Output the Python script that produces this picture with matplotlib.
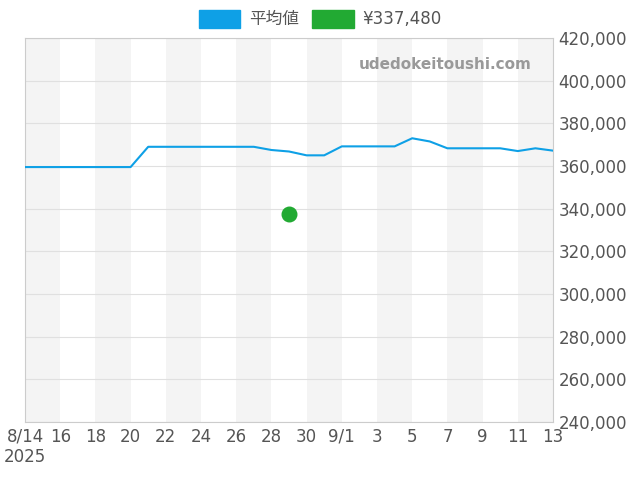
import matplotlib
matplotlib.use("Agg")
import matplotlib.pyplot as plt
import numpy as np
import datetime as dt

plt.rcParams['font.family'] = ['DejaVu Sans', 'Noto Sans CJK JP']

start = dt.date(2025, 8, 14)
avg_values = [359500]*7 + [369000]*7 + [367500, 366800, 365000, 365000] + [369200]*4 + \
             [373000, 371500] + [368300]*4 + [367000, 368300, 367200]
dates = [start + dt.timedelta(days=i) for i in range(len(avg_values))]
point_date = dt.date(2025, 8, 29)
point_value = 337480

tick_labels = ["8/14\n2025","16","18","20","22","24","26","28","30","9/1","3","5","7","9","11","13"]

fig = plt.figure(figsize=(6.4, 4.8), dpi=100)
ax = fig.add_axes([25/640, 1-422/480, 528/640, 384/480])
x = np.arange(len(avg_values))
px = (point_date - start).days

for k in range(0, 30, 4):
    ax.axvspan(k, k+2, color='#f4f4f4', zorder=0, lw=0)

ax.plot(x, avg_values, color='#0ea0e6', lw=1.5, zorder=3)
ax.scatter([px], [point_value], color='#22aa33', s=110, zorder=4)

ax.set_xlim(0, 30)
ax.set_ylim(240000, 420000)
ax.set_xticks(np.arange(0, 31, 2))
ax.set_xticklabels(tick_labels)
ax.set_yticks(np.arange(240000, 420001, 20000))
ax.yaxis.tick_right()
ax.yaxis.set_major_formatter(matplotlib.ticker.FuncFormatter(lambda v, p: f"{int(v):,}"))
ax.grid(axis='y', color='#e0e0e0', lw=0.8, zorder=1)
ax.tick_params(length=0, labelsize=12, colors='#555555', pad=4)
for s in ax.spines.values():
    s.set_color('#cccccc')

ax.text(0.96, 0.93, 'udedokeitoushi.com', transform=ax.transAxes, ha='right', va='center',
        fontsize=11, fontweight='bold', color='#999999')

h1 = matplotlib.patches.Patch(color='#0ea0e6')
h2 = matplotlib.patches.Patch(color='#22aa33')
fig.legend([h1, h2], ['平均値', '¥337,480'], loc='center', bbox_to_anchor=(0.5, 1-19/480),
           ncol=2, frameon=False, fontsize=12, handlelength=2.5, handleheight=1.3,
           columnspacing=0.8, handletextpad=0.5, labelcolor='#555555')

fig.savefig('out.png', dpi=100)
